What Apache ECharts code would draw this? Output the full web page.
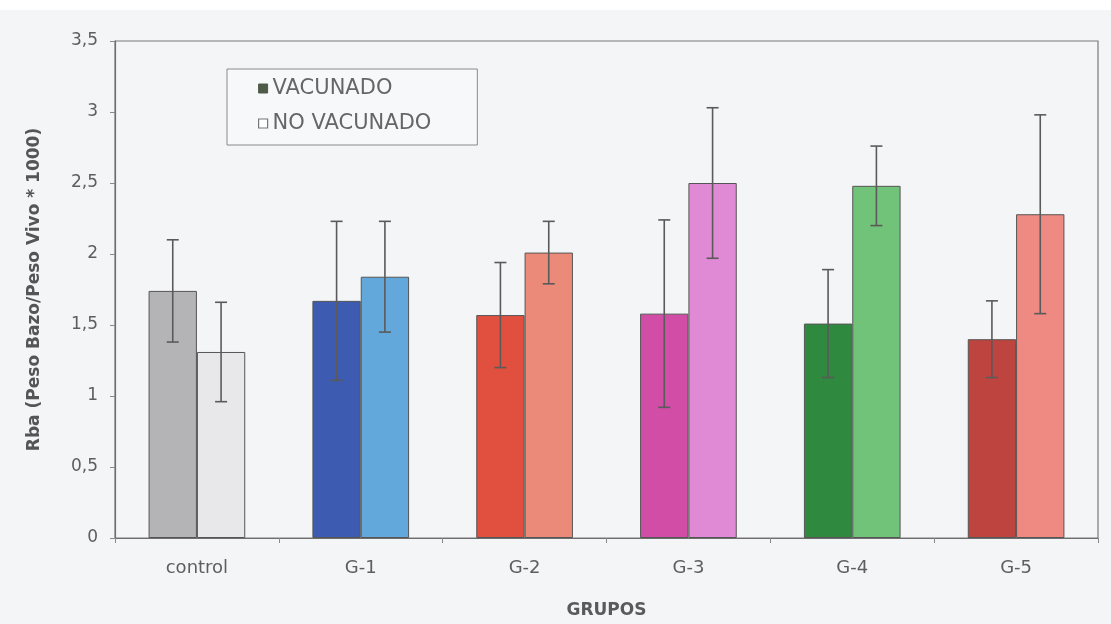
<!DOCTYPE html>
<html>
<head>
<meta charset="utf-8">
<script src="https://cdn.jsdelivr.net/npm/echarts@6/dist/echarts.min.js"></script>
<style>
  html, body { margin: 0; padding: 0; background: #f4f5f7; }
  #chart { width: 1111px; height: 624px; }
</style>
</head>
<body>
<div id="chart"></div>
<script>
// Spleen-to-body-weight ratio per group, vaccinated vs. non-vaccinated
const categories = ['control', 'G-1', 'G-2', 'G-3', 'G-4', 'G-5'];
const vacunado = [1.74, 1.67, 1.57, 1.58, 1.51, 1.40];
const vacunadoErr = [0.36, 0.56, 0.37, 0.66, 0.38, 0.27];
const noVacunado = [1.31, 1.84, 2.01, 2.50, 2.48, 2.28];
const noVacunadoErr = [0.35, 0.39, 0.22, 0.53, 0.28, 0.70];

const vacColors = ['#b4b4b6', '#3d5bb0', '#e1503f', '#d24ea6', '#2f8a3f', '#be443f'];
const noVacColors = ['#e8e8ea', '#62a8db', '#ec8a7a', '#e08ad6', '#72c37a', '#ee8a82'];

const GAP = 0.41;

const chart = echarts.init(document.getElementById('chart'));

function errorBars(values, errs, side) {
  return values.map((v, i) => [i, v, errs[i], side]);
}

function renderError(params, api) {
  const x = api.value(0), y = api.value(1), e = api.value(2), side = api.value(3);
  const band = api.size([1, 0])[0];
  const bw = band * (1 - GAP) / 2;
  const base = api.coord([x, y]);
  const cx = base[0] + (side === 0 ? -bw / 2 : bw / 2);
  const top = api.coord([x, y + e])[1];
  const bot = api.coord([x, y - e])[1];
  const cap = 6;
  const style = { stroke: '#5a5a5a', lineWidth: 1.6 };
  return {
    type: 'group',
    children: [
      { type: 'line', shape: { x1: cx, y1: top, x2: cx, y2: bot }, style },
      { type: 'line', shape: { x1: cx - cap, y1: top, x2: cx + cap, y2: top }, style },
      { type: 'line', shape: { x1: cx - cap, y1: bot, x2: cx + cap, y2: bot }, style }
    ]
  };
}

const labelFont = { fontFamily: 'DejaVu Sans', color: '#5e5e5e' };

chart.setOption({
  backgroundColor: '#f4f5f7',
  animation: false,
  graphic: [
    { type: 'rect', left: 0, top: 0, shape: { width: 1111, height: 10 }, style: { fill: '#ffffff' }, silent: true }
  ],
  grid: {
    left: 115, right: 13, top: 41, bottom: 86,
    show: true, borderColor: '#7a7a7a', borderWidth: 1.2, backgroundColor: 'transparent'
  },
  legend: {
    orient: 'vertical',
    left: 227, top: 69,
    padding: [9, 46, 11, 31],
    itemGap: 14,
    itemWidth: 9, itemHeight: 9,
    backgroundColor: '#f7f8f9',
    borderColor: '#8a8a8a', borderWidth: 1,
    borderRadius: 0,
    textStyle: { fontFamily: 'DejaVu Sans', fontSize: 21, color: '#666666' },
    data: [
      { name: 'VACUNADO', icon: 'rect', itemStyle: { color: '#4e5b48', borderColor: '#4e5b48', borderWidth: 1 } },
      { name: 'NO VACUNADO', icon: 'rect', itemStyle: { color: '#ffffff', borderColor: '#777777', borderWidth: 1.2 } }
    ]
  },
  xAxis: {
    type: 'category',
    data: categories,
    axisLine: { lineStyle: { color: '#6e6e6e', width: 1.2 } },
    axisTick: { show: true, length: 5, lineStyle: { color: '#8a8a8a' } },
    axisLabel: { ...labelFont, fontSize: 18, margin: 21 },
    name: 'GRUPOS',
    nameLocation: 'middle',
    nameGap: 64,
    nameTextStyle: { fontFamily: 'DejaVu Sans', fontSize: 17, fontWeight: 'bold', color: '#5a5a5a' }
  },
  yAxis: {
    type: 'value',
    min: 0, max: 3.5, interval: 0.5,
    splitLine: { show: false },
    axisLine: { show: true, lineStyle: { color: '#6e6e6e', width: 1.2 } },
    axisTick: { show: true, length: 5, lineStyle: { color: '#8a8a8a' } },
    axisLabel: {
      ...labelFont, fontSize: 17, margin: 17,
      formatter: v => String(v).replace('.', ',')
    },
    name: 'Rba (Peso Bazo/Peso Vivo * 1000)',
    nameLocation: 'middle',
    nameGap: 72,
    nameTextStyle: { fontFamily: 'DejaVu Sans', fontSize: 17, fontWeight: 'bold', color: '#555555' }
  },
  series: [
    {
      name: 'VACUNADO',
      type: 'bar',
      barGap: '0%',
      barCategoryGap: (GAP * 100) + '%',
      itemStyle: { color: '#4e5b48', borderColor: '#555555', borderWidth: 1 },
      data: vacunado.map((v, i) => ({ value: v, itemStyle: { color: vacColors[i] } }))
    },
    {
      name: 'NO VACUNADO',
      type: 'bar',
      barGap: '0%',
      barCategoryGap: (GAP * 100) + '%',
      itemStyle: { color: '#ffffff', borderColor: '#555555', borderWidth: 1 },
      data: noVacunado.map((v, i) => ({ value: v, itemStyle: { color: noVacColors[i] } }))
    },
    {
      name: 'err-vac',
      type: 'custom',
      renderItem: renderError,
      data: errorBars(vacunado, vacunadoErr, 0),
      z: 10
    },
    {
      name: 'err-novac',
      type: 'custom',
      renderItem: renderError,
      data: errorBars(noVacunado, noVacunadoErr, 1),
      z: 10
    }
  ]
});
</script>
</body>
</html>
